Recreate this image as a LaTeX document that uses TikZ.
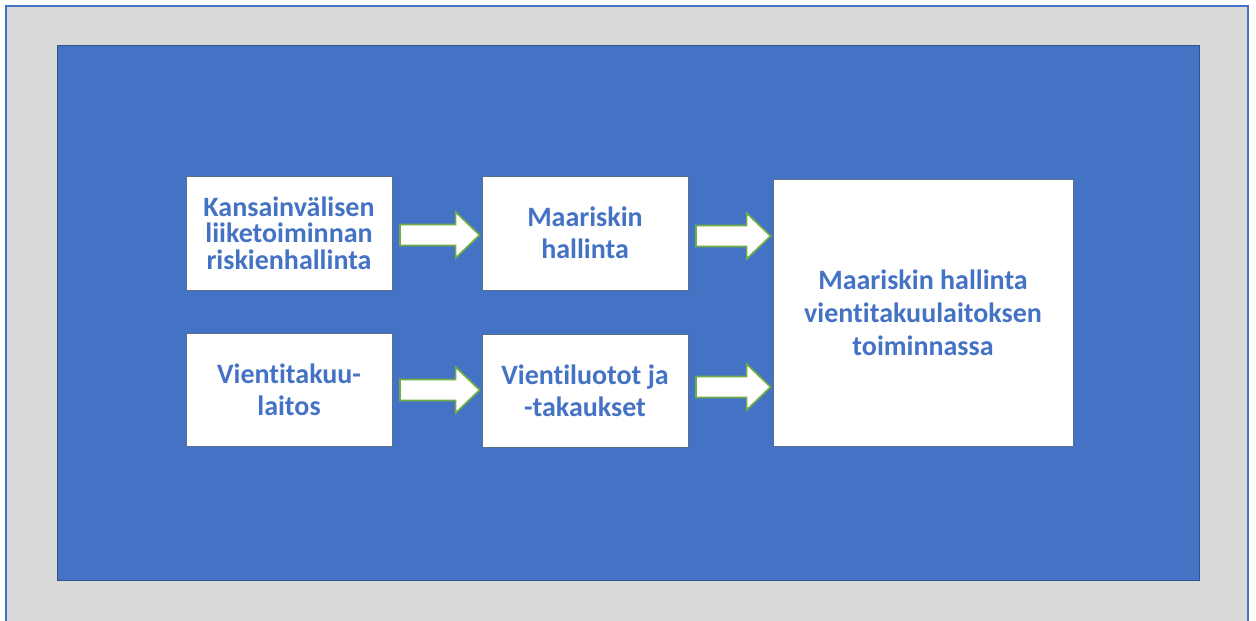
\documentclass[tikz,border=0pt]{standalone}
\usepackage{fontspec}
\setmainfont{Carlito}[Ligatures=NoCommon]
\usetikzlibrary{calc}
\definecolor{panelgray}{HTML}{D9D9D9}
\definecolor{accentblue}{HTML}{4472C4}
\definecolor{darkblue}{HTML}{2F528F}
\definecolor{boxline}{HTML}{5B6E8C}
\definecolor{arrowgreen}{HTML}{70AD47}
\tikzset{
  box/.style={draw=boxline, fill=white, line width=0.8pt, inner sep=0pt,
    align=center, text=accentblue, font=\bfseries\fontsize{28}{32}\selectfont},
  blockarr/.style={draw=arrowgreen, fill=white, line width=1.7pt, line join=miter},
}
% block arrow from the right side of #1 to the left side of #2, at the height of #1 shifted by #3
\newcommand\blockarrow[3]{%
  \draw[blockarr] let \p1=($(#1.east)+(7.5pt,#3)$), \p2=($(#2.west)+(-2pt,0)$) in
    (\x1,\y1+10.5pt) -- (\x2-24pt,\y1+10.5pt) -- (\x2-24pt,\y1+23pt) -- (\x2,\y1)
    -- (\x2-24pt,\y1-23pt) -- (\x2-24pt,\y1-10.5pt) -- (\x1,\y1-10.5pt) -- cycle;}
\begin{document}
\begin{tikzpicture}[x=1pt,y=-1pt]
  \useasboundingbox (0,0) rectangle (1256,621);
  \fill[white] (0,0) rectangle (1256,621);
  % outer grey panel
  \fill[panelgray] (6,6) rectangle (1248,621);
  \draw[accentblue, line width=1.5pt] (6,621) -- (6,6) -- (1248,6) -- (1248,621);
  % blue slide area
  \draw[darkblue, fill=accentblue, line width=1pt] (57,45) rectangle (1199,580);

  \node[box, minimum width=206pt, minimum height=114pt,
        font=\bfseries\fontsize{28}{26.7}\selectfont] (intl) at (289,233)
        {Kansainvälisen\\liiketoiminnan\\riskienhallinta};
  \node[box, minimum width=206pt, minimum height=114pt] (country) at (585,233)
        {Maariskin\\hallinta};
  \node[box, minimum width=206pt, minimum height=113pt] (eca) at (289,389.5)
        {Vientitakuu-\\laitos};
  \node[box, minimum width=206pt, minimum height=113pt] (credits) at (585,390.5)
        {Vientiluotot ja\\-takaukset};
  \node[box, minimum width=300pt, minimum height=267pt, font=\bfseries\fontsize{28}{33}\selectfont]
        (result) at (923,312.5)
        {Maariskin hallinta\\vientitakuulaitoksen\\toiminnassa};

  \blockarrow{intl}{country}{-2pt}
  \blockarrow{eca}{credits}{-0.5pt}
  \blockarrow{country}{result}{-3pt}
  \blockarrow{credits}{result}{3.5pt}
\end{tikzpicture}
\end{document}
